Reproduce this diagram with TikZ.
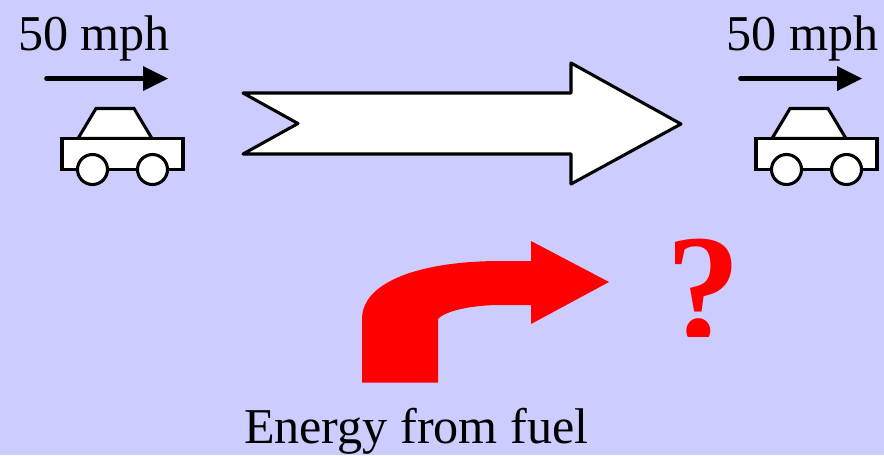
\documentclass[tikz,border=0pt]{standalone}
\usepackage{fontspec}
\setmainfont{Liberation Serif}
\definecolor{bgblue}{RGB}{204,204,255}
\definecolor{pure}{RGB}{255,0,0}
\tikzset{
  x=0.75pt,y=-0.75pt,
  lab/.style={inner sep=0pt,outer sep=0pt,anchor=base west,font=\fontsize{37.6}{40}\selectfont},
  carpart/.style={draw=black,fill=white,line width=2.3pt,line join=miter},
}
\newcommand{\drawcar}[1]{%
  \begin{scope}[xshift=#1*0.75pt]
    \draw[carpart] (78,138.5) -- (96,108.5) -- (134,108.5) -- (152,138.5) -- cycle;
    \draw[carpart] (62,138.5) rectangle (183,169.5);
    \draw[carpart] (92.5,169.5) circle[radius=15];
    \draw[carpart] (152.5,169.5) circle[radius=15];
    \draw[black,line width=3.5pt,line cap=round] (46.5,78.5) -- (145,78.5);
    \fill[black] (143,66) -- (168,78.5) -- (143,91) -- cycle;
  \end{scope}}
\begin{document}
\begin{tikzpicture}
\useasboundingbox (0,0) rectangle (884,455);
\fill[bgblue] (0,0) rectangle (884,455);
\node[lab] (speedA) at (18,50) {50 mph};
\node[lab] (speedB) at (726.5,50) {50 mph};
\drawcar{0}
\drawcar{694}
\draw[carpart,line join=round] (243,93) -- (571,93) -- (571,63) -- (681,124) -- (571,184) -- (571,154) -- (243,154) -- (298,123.5) -- cycle;
\fill[pure] (362,382.5) -- (438,382.5) -- (438,319)
  .. controls (446,310) and (475,305) .. (500,305) -- (531,305) -- (531,324) -- (609,282) -- (531,241) -- (531,261) -- (500,261)
  .. controls (425,261) and (362,280) .. (362,319) -- cycle;
\begin{scope}
  \clip (640,200) rectangle (760,336);
  \node[lab,text=pure,font=\fontsize{116}{118}\selectfont\bfseries] (question) at (666,341) {\scalebox{0.96}[1]{?}};
\end{scope}
\node[lab] (fuel) at (244,443) {Energy from fuel};
\end{tikzpicture}
\end{document}
